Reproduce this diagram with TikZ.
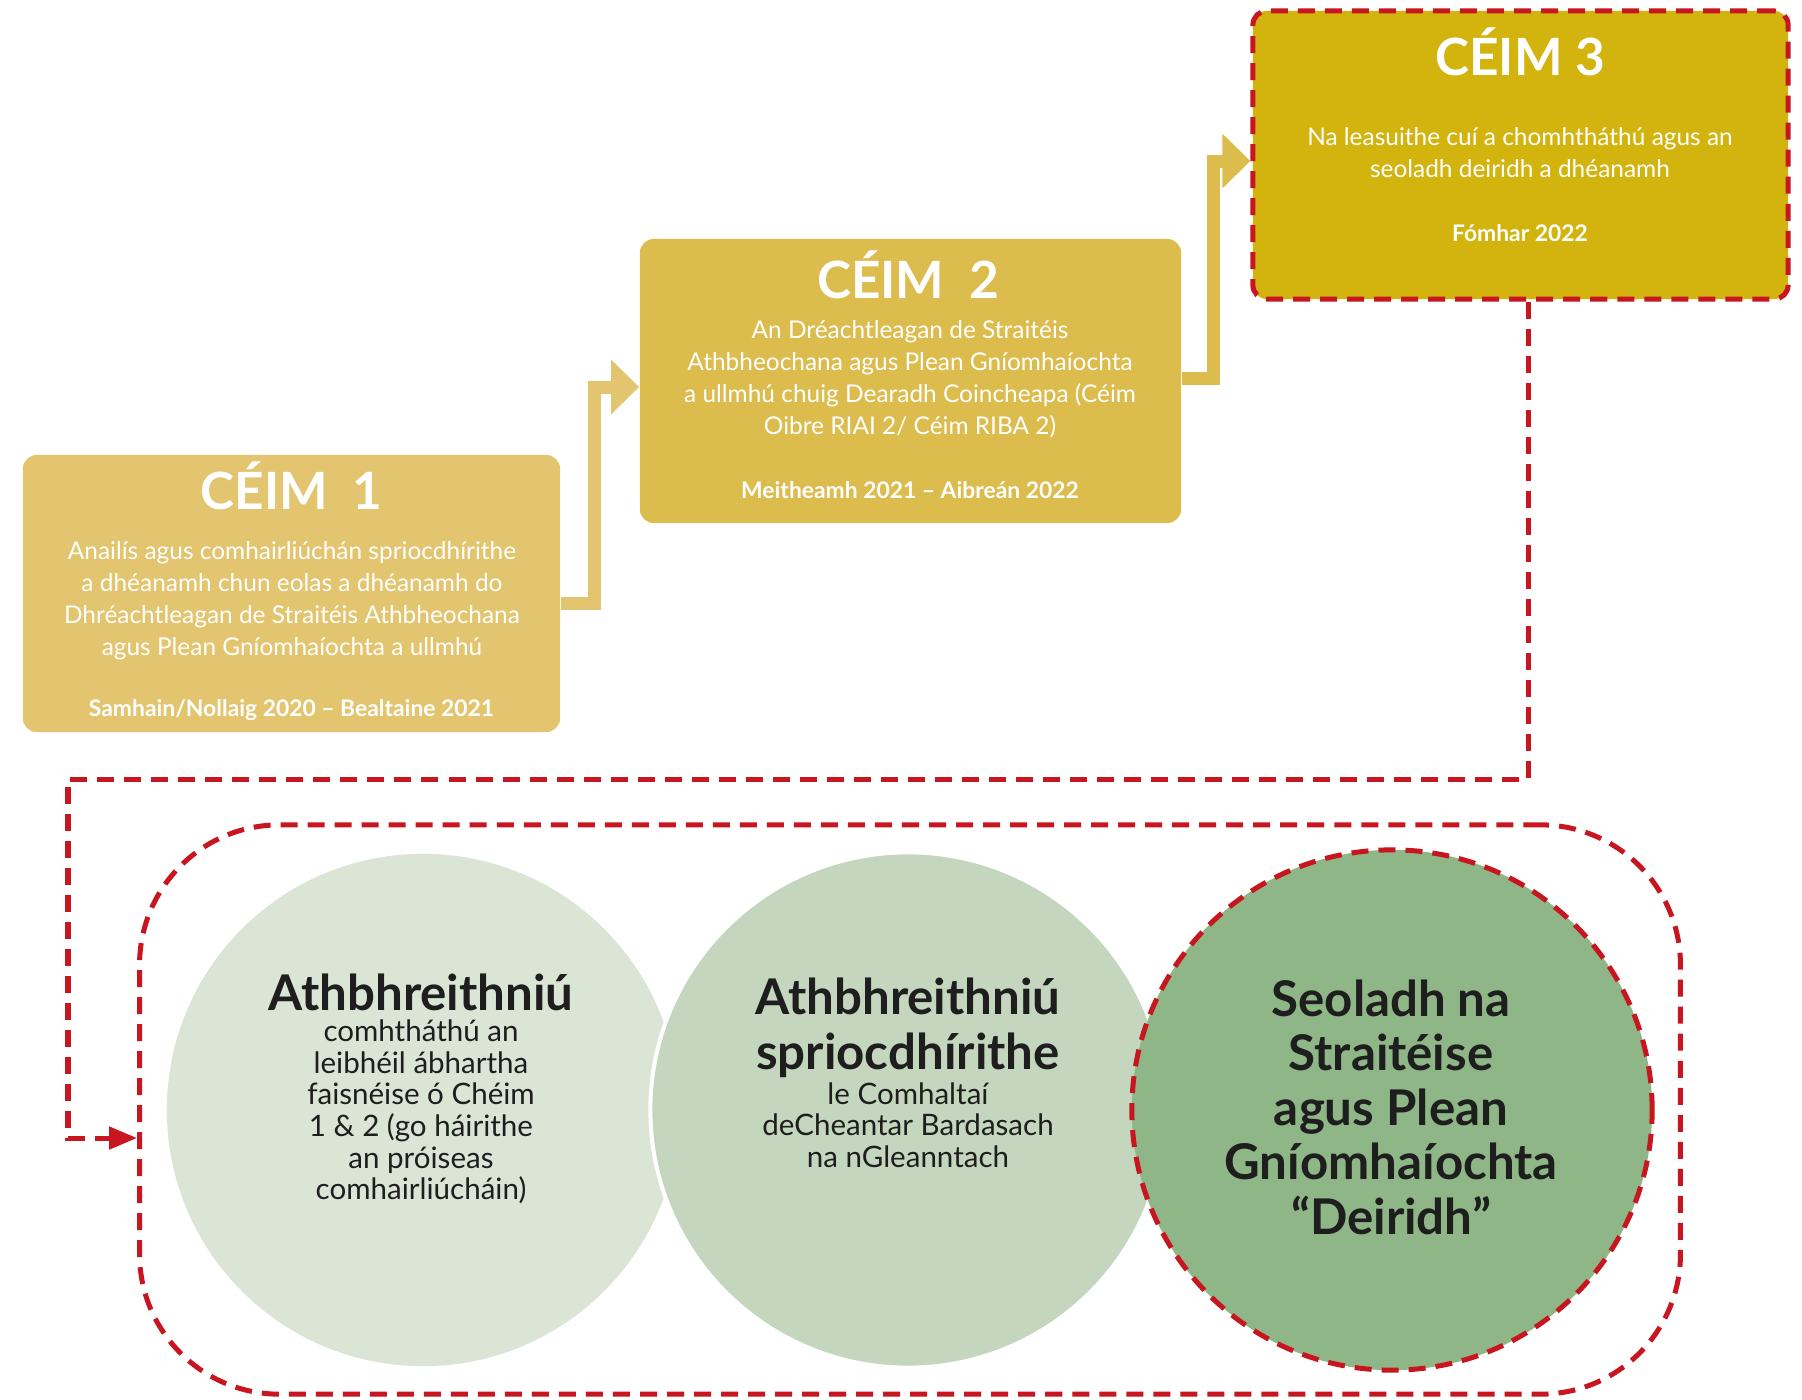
\documentclass[tikz,border=0pt]{standalone}
\usepackage{fontspec}
\setmainfont{Lato}
\usetikzlibrary{arrows.meta, positioning, calc}
\definecolor{goldpale}{RGB}{226,197,110}
\definecolor{goldmid}{RGB}{221,188,78}
\definecolor{golddeep}{RGB}{211,179,14}
\definecolor{crimson}{RGB}{200,22,32}
\definecolor{sagepale}{RGB}{218,229,213}
\definecolor{sagemid}{RGB}{196,215,190}
\definecolor{sagedeep}{RGB}{143,182,134}
\definecolor{inkdark}{RGB}{30,30,30}

\begin{document}
\begin{tikzpicture}[x=0.01cm, y=-0.01cm,
    stagebox/.style={rounded corners=0.14cm, inner sep=0pt},
    stagetitle/.style={text=white, font=\fontsize{14.6}{15}\selectfont\bfseries},
    stagetext/.style={text=white, align=center, font=\fontsize{6.95}{9.1}\selectfont},
    stagedate/.style={text=white, font=\fontsize{6.5}{8}\selectfont\bfseries},
    goldflow/.style={line width=0.13cm, line join=miter, -{Triangle[length=0.28cm, width=0.53cm]}},
    redline/.style={draw=crimson, line width=0.05cm, dash pattern=on 0.17cm off 0.1cm},
    ring/.style={circle, inner sep=0pt},
    ringtitle/.style={text=inkdark, align=center, font=\fontsize{14}{15.5}\selectfont\bfseries},
    ringtext/.style={text=inkdark, align=center, font=\fontsize{8.4}{9}\selectfont}
]
    \useasboundingbox[fill=white] (0,0) rectangle (1802,1399);

    % stages
    \node[stagebox, fill=goldpale, minimum width=5.37cm, minimum height=2.77cm] (ceim1) at (291.5,593.5) {};
    \node[stagebox, fill=goldmid, minimum width=5.41cm, minimum height=2.84cm] (ceim2) at (910.5,381) {};
    \node[stagebox, fill=golddeep, redline, minimum width=5.35cm, minimum height=2.88cm] (ceim3) at (1520.5,155) {};

    \node[stagetitle] (ceim1-title) at (291.5,486) {CÉIM~~1};
    \node[stagetext] (ceim1-text) at (292,601) {Anailís agus comhairliúchán spriocdhírithe\\a dhéanamh chun eolas a dhéanamh do\\Dhréachtleagan de Straitéis Athbheochana\\agus Plean Gníomhaíochta a ullmhú};
    \node[stagedate] (ceim1-date) at (291.5,710) {Samhain/Nollaig 2020 – Bealtaine 2021};

    \node[stagetitle] (ceim2-title) at (908,275) {CÉIM~~2};
    \node[stagetext] (ceim2-text) at (910,379) {An Dréachtleagan de Straitéis\\Athbheochana agus Plean Gníomhaíochta\\a ullmhú chuig Dearadh Coincheapa (Céim\\Oibre RIAI 2/ Céim RIBA 2)};
    \node[stagedate] (ceim2-date) at (910,490) {Meitheamh 2021 – Aibreán 2022};

    \node[stagetitle] (ceim3-title) at (1520,52) {CÉIM 3};
    \node[stagetext] (ceim3-text) at (1520,153) {Na leasuithe cuí a chomhtháthú agus an\\seoladh deiridh a dhéanamh};
    \node[stagedate] (ceim3-date) at (1520,233) {Fómhar 2022};

    \draw[goldflow, goldpale] ([yshift=-0.095cm]ceim1.east) -- ++(0.34cm,0) |- ([yshift=-0.06cm]ceim2.west);
    \draw[goldflow, goldmid] ([yshift=0.03cm]ceim2.east) -- ++(0.32cm,0) |- ([yshift=-0.06cm]ceim3.west);

    % review loop
    \node[redline, rounded corners=1.4cm, inner sep=0pt, minimum width=15.4cm, minimum height=5.69cm] (frame) at (910,1109.5) {};
    \coordinate (detour) at (68,779);
    \draw[redline, -{Triangle[length=0.28cm, width=0.22cm]}] ([xshift=0.075cm]ceim3.south) |- (detour) |- ([yshift=-0.285cm]frame.west);

    \node[ring, fill=sagepale, minimum size=5.12cm] (review) at (423,1110) {};
    \node[ring, fill=sagemid, draw=white, line width=0.04cm, minimum size=5.15cm] (targeted) at (908,1110) {};
    \node[ring, fill=sagedeep, redline, minimum size=5.2cm] (launch) at (1392,1110) {};

    \node[ringtitle] (review-title) at (421,992) {Athbhreithniú};
    \node[ringtext] (review-text) at (421,1112) {comhtháthú an\\leibhéil ábhartha\\faisnéise ó Chéim\\1 \& 2 (go háirithe\\an próiseas\\comhairliúcháin)};
    \node[ringtitle] (targeted-title) at (908,1028) {Athbhreithniú\\spriocdhírithe};
    \node[ringtext] (targeted-text) at (908,1125) {le Comhaltaí\\deCheantar Bardasach\\na nGleanntach};
    \node[ringtitle] (launch-text) at (1391,1107) {Seoladh na\\Straitéise\\agus Plean\\Gníomhaíochta\\“Deiridh”};
\end{tikzpicture}
\end{document}
